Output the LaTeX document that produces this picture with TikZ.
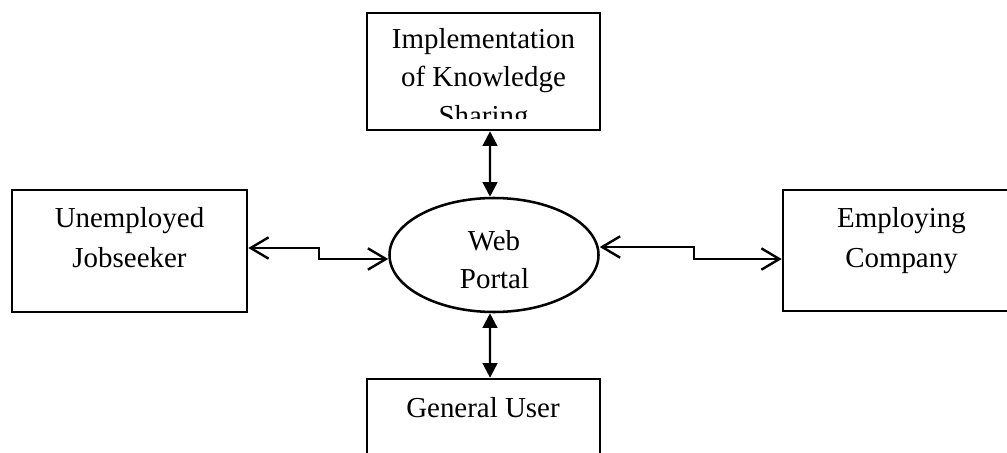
\documentclass[tikz,border=0pt]{standalone}
\usepackage{fontspec}
\setmainfont{Liberation Serif}
\usetikzlibrary{arrows.meta,shapes.geometric}
\tikzset{
  box/.style={draw, line width=1.9pt, rectangle, inner sep=0pt},
  portal/.style={draw, line width=1.9pt, ellipse, inner sep=0pt, minimum width=156.75pt, minimum height=85.5pt},
  lbl/.style={anchor=base, inner sep=0pt, font=\fontsize{21.7}{26}\selectfont},
  biopen/.style={line width=1.8pt, {Straight Barb[length=13.5pt,width=16pt]}-{Straight Barb[length=13.5pt,width=16pt]}},
  bitri/.style={line width=1.8pt, {Triangle[length=11pt,width=11pt]}-{Triangle[length=11pt,width=11pt]}}
}
\begin{document}
\begin{tikzpicture}[x=0.75pt,y=-0.75pt]
\useasboundingbox (0,0) rectangle (1007,453);
\clip (0,0) rectangle (1007,453);
% boxes
\node[box, minimum width=174.75pt, minimum height=87.75pt] (iks) at (483.5,71.5) {};
\node[box, minimum width=176.25pt, minimum height=91.5pt] (ujs) at (129.5,251) {};
\node[box, minimum width=177.75pt, minimum height=90.75pt] (emp) at (901.5,250.5) {};
\node[box, minimum width=174.75pt, minimum height=90.75pt] (gus) at (483.5,439.5) {};
\node[portal] (web) at (494,255) {};
% texts
\node[lbl] (t1) at (483.5,49) {Implementation};
\node[lbl] (t2) at (483.5,87) {of Knowledge};
\begin{scope}
  \clip (367,13) rectangle (600,119);
  \node[lbl] (t3) at (483.5,126) {Sharing};
\end{scope}
\node[lbl] (t4) at (129.5,227) {Unemployed};
\node[lbl] (t5) at (129.5,267) {Jobseeker};
\node[lbl] (t6) at (901.5,227.5) {Employing};
\node[lbl] (t7) at (901.5,267.5) {Company};
\node[lbl] (t8) at (494,250) {Web};
\begin{scope}
  \clip (390,198) rectangle (600,289);
  \node[lbl] (t9) at (494.5,288) {Portal};
\end{scope}
\node[lbl] (t10) at (483,417) {General User};
% connectors
\draw[bitri] ([xshift=4.9pt]iks.south) -- ([xshift=-3pt]web.north);
\draw[bitri] ([xshift=-3pt]web.south) -- ([xshift=4.9pt]gus.north);
\draw[biopen] ([yshift=2.25pt]ujs.east) -- ++(71,0) |- ([yshift=-3pt]web.west);
\draw[biopen] ([yshift=6pt]web.east) -- ++(94.5,0) |- ([yshift=-6.4pt]emp.west);
\end{tikzpicture}
\end{document}
